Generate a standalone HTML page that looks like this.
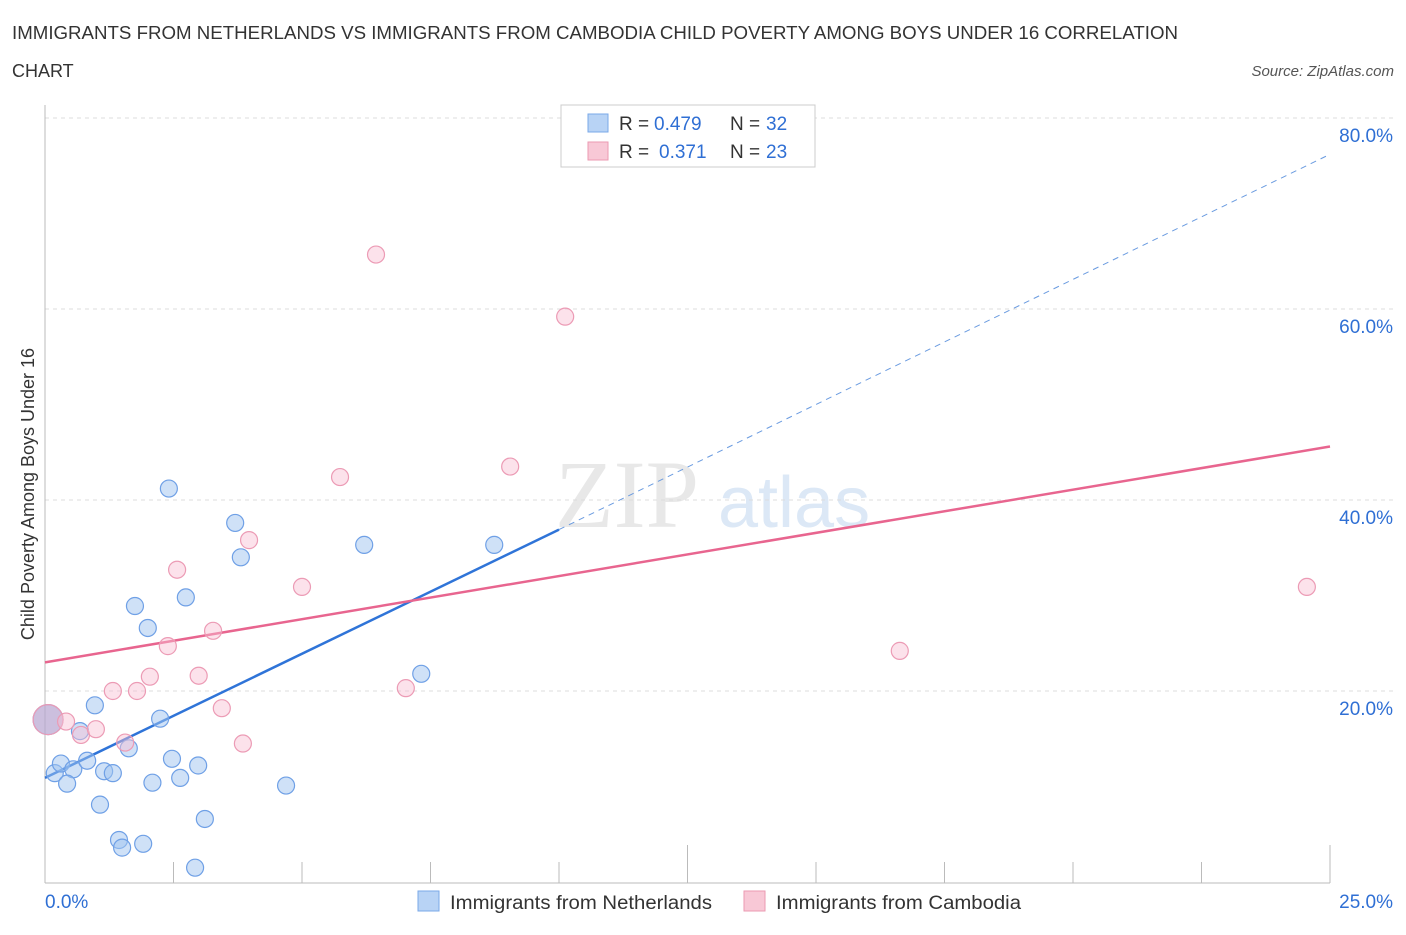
<!DOCTYPE html>
<html><head><meta charset="utf-8"><style>
body{margin:0;background:#fff;font-family:"Liberation Sans",sans-serif}
</style></head><body>
<svg id="chart" width="1406" height="930" xmlns="http://www.w3.org/2000/svg" font-family="Liberation Sans, sans-serif">
<text x="12" y="39" font-size="18" fill="#333" textLength="1166" lengthAdjust="spacingAndGlyphs">IMMIGRANTS FROM NETHERLANDS VS IMMIGRANTS FROM CAMBODIA CHILD POVERTY AMONG BOYS UNDER 16 CORRELATION</text>
<text x="12" y="77" font-size="18" fill="#333">CHART</text>
<text x="1394" y="76" font-size="15" fill="#555" font-style="italic" text-anchor="end">Source: ZipAtlas.com</text>
<text x="555" y="527" font-size="96" fill="#e8e8e8" font-family="Liberation Serif, serif">ZIP</text>
<text x="718" y="527" font-size="72" fill="#dce8f6">atlas</text>
<text transform="translate(34,494) rotate(-90)" font-size="18" fill="#333" text-anchor="middle">Child Poverty Among Boys Under 16</text>
<g id="grid"></g><g id="axes"></g><g id="lines"></g><g id="pts"></g>
<g>
<rect x="561" y="105" width="254" height="62" fill="#fff" stroke="#ccc"/>
<rect x="588" y="114" width="20" height="18" fill="#b8d3f5" stroke="#7aa8e8"/>
<text x="619" y="130" font-size="19" fill="#333">R =</text>
<text x="654" y="130" font-size="19" fill="#2f6fd4">0.479</text>
<text x="730" y="130" font-size="19" fill="#333">N =</text>
<text x="766" y="130" font-size="19" fill="#2f6fd4">32</text>
<rect x="588" y="142" width="20" height="18" fill="#f8c8d6" stroke="#eb9ab2"/>
<text x="619" y="158" font-size="19" fill="#333">R =</text>
<text x="659" y="158" font-size="19" fill="#2f6fd4">0.371</text>
<text x="730" y="158" font-size="19" fill="#333">N =</text>
<text x="766" y="158" font-size="19" fill="#2f6fd4">23</text>
</g>
<g>
<rect x="418" y="891" width="21" height="20" fill="#b8d3f5" stroke="#7aa8e8"/>
<text x="450" y="909" font-size="19" fill="#333" textLength="262" lengthAdjust="spacingAndGlyphs">Immigrants from Netherlands</text>
<rect x="744" y="891" width="21" height="20" fill="#f8c8d6" stroke="#eb9ab2"/>
<text x="776" y="909" font-size="19" fill="#333" textLength="245" lengthAdjust="spacingAndGlyphs">Immigrants from Cambodia</text>
</g>
</svg>
<script>
const blueX=[0.06,0.19,0.31,0.55,0.43,0.97,0.68,0.82,1.15,1.32,1.07,1.44,1.5,1.91,1.63,2.09,2.24,2.47,2.63,2.98,3.11,2.92,1.75,2.0,2.74,2.41,3.7,3.81,6.21,8.74,7.32,4.69];
const blueY=[17.0,11.4,12.4,11.8,10.3,18.5,15.8,12.7,11.6,11.4,8.1,4.4,3.6,4.0,14.0,10.4,17.1,12.9,10.9,12.2,6.6,1.5,28.9,26.6,29.8,41.2,37.6,34.0,35.3,35.3,21.8,10.1];
const pinkX=[0.06,0.41,0.7,0.99,1.32,1.79,2.04,1.56,2.39,2.57,2.99,3.27,3.44,3.85,3.97,5.0,5.74,6.44,7.02,9.05,10.12,16.63,24.55];
const pinkY=[17.0,16.8,15.4,16.0,20.0,20.0,21.5,14.6,24.7,32.7,21.6,26.3,18.2,14.5,35.8,30.9,42.4,65.7,20.3,43.5,59.2,24.2,30.9];
const blueLineX=[0,10,25]; const blueLineY=[10.9,36.9,76.2];
const pinkLineX=[0,25]; const pinkLineY=[23.0,45.6];
const yTicks=[20,40,60,80]; const yTickLabels=["20.0%","40.0%","60.0%","80.0%"];
const xTickLabels=["0.0%","25.0%"];
const ns="http://www.w3.org/2000/svg";
const sx=v=>45+v/25*1285, sy=v=>882-v/20*191;
function mk(t,a,p){const e=document.createElementNS(ns,t);for(const k in a)e.setAttribute(k,a[k]);p.appendChild(e);return e;}
const grid=document.getElementById('grid'),axes=document.getElementById('axes'),lines=document.getElementById('lines'),pts=document.getElementById('pts');
yTicks.forEach((v,i)=>{
 const l=mk('line',{x1:45,x2:1395,y1:sy(v),y2:sy(v),stroke:'#ddd','stroke-dasharray':'4,4'},grid);
 
 
 const t=mk('text',{x:1393,y:sy(v)+24,'font-size':19,fill:'#2f6fd4','text-anchor':'end'},axes);
 t.textContent=yTickLabels[i];
 
 
});
const topLine=mk('line',{x1:45,x2:1395,y1:118,y2:118,stroke:'#ddd','stroke-dasharray':'4,4'},grid);


const ya=mk('line',{x1:45,x2:45,y1:105,y2:883,stroke:'#bbb'},axes);


const xa=mk('line',{x1:45,x2:1330,y1:883,y2:883,stroke:'#bbb'},axes);


for(let i=1;i<=10;i++){const x=sx(i*2.5);const tk=mk('line',{x1:x,x2:x,y1:(i%5==0)?845:862,y2:883,stroke:'#bbb'},axes);
 
 }
[[0,'start',45],[25,'end',1393]].forEach((d,i)=>{const t=mk('text',{x:d[2],y:908,'font-size':19,fill:'#2f6fd4','text-anchor':d[1]},axes);t.textContent=xTickLabels[i];
 
 });
const b1=mk('line',{x1:sx(blueLineX[0]),y1:sy(blueLineY[0]),x2:sx(blueLineX[1]),y2:sy(blueLineY[1]),stroke:'#2f74d8','stroke-width':2.5},lines);


const b2=mk('line',{x1:sx(blueLineX[1]),y1:sy(blueLineY[1]),x2:sx(blueLineX[2]),y2:sy(blueLineY[2]),stroke:'#6a9be0','stroke-width':1,'stroke-dasharray':'6,5'},lines);


const p1=mk('line',{x1:sx(pinkLineX[0]),y1:sy(pinkLineY[0]),x2:sx(pinkLineX[1]),y2:sy(pinkLineY[1]),stroke:'#e8658f','stroke-width':2.5},lines);


blueX.forEach((x,i)=>{const c=mk('circle',{cx:sx(x),cy:sy(blueY[i]),r:i==0?15:8.5,fill:'rgba(160,196,240,0.5)',stroke:'#6fa0e6','stroke-width':1.2},pts);
 
 });
pinkX.forEach((x,i)=>{const c=mk('circle',{cx:sx(x),cy:sy(pinkY[i]),r:i==0?15:8.5,fill:i==0?'rgba(200,150,190,0.45)':'rgba(248,190,210,0.45)',stroke:'#ec9bb5','stroke-width':1.2},pts);
 
 });
</script>
</body></html>
